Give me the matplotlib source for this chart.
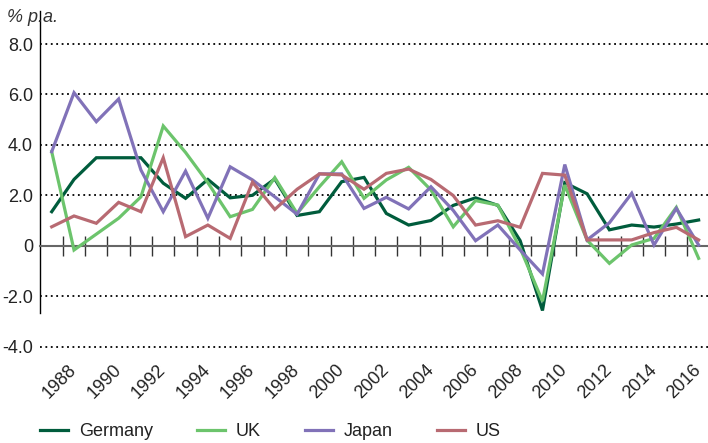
import matplotlib
matplotlib.use("Agg")
import matplotlib.pyplot as plt
import numpy as np

plt.rcParams['font.family'] = ['Liberation Sans', 'DejaVu Sans']

years = list(range(1987, 2017))
germany = [1.35, 2.63, 3.49, 3.49, 3.49, 2.48, 1.88, 2.63, 1.9, 2.0, 2.65, 1.2, 1.35, 2.54, 2.71,
           1.28, 0.82, 1.0, 1.6, 1.9, 1.6, 0.2, -2.57, 2.5, 2.06, 0.63, 0.82, 0.74, 0.86, 1.02]
uk = [3.73, -0.17, 0.46, 1.09, 1.94, 4.75, 3.7, 2.5, 1.15, 1.44, 2.7, 1.28, 2.34, 3.33, 1.88,
      2.61, 3.11, 2.21, 0.75, 1.79, 1.61, -0.1, -2.2, 2.41, 0.22, -0.7, 0.03, 0.29, 1.52, -0.5]
japan = [3.73, 6.07, 4.92, 5.82, 3.0, 1.35, 2.96, 1.09, 3.13, 2.61, 1.94, 1.25, 2.85, 2.85, 1.48,
         1.92, 1.46, 2.34, 1.4, 0.2, 0.82, -0.17, -1.12, 3.22, 0.23, 0.91, 2.08, 0.03, 1.48, 0.03]
us = [0.75, 1.18, 0.89, 1.72, 1.35, 3.49, 0.36, 0.82, 0.29, 2.52, 1.44, 2.24, 2.85, 2.81, 2.24,
      2.87, 3.04, 2.63, 1.99, 0.82, 0.99, 0.73, 2.87, 2.8, 0.23, 0.23, 0.23, 0.52, 0.73, 0.23]

series = [("Germany", germany, "#005c3c"),
          ("UK", uk, "#6cc46c"),
          ("Japan", japan, "#8172b8"),
          ("US", us, "#b86a72")]

yticks = [-4, -2, 0, 2, 4, 6, 8]
ytick_labels = ["-4.0", "-2.0", "0", "2.0", "4.0", "6.0", "8.0"]

W, H = 708, 443
fs = 13
fig = plt.figure(figsize=(W / 100, H / 100), dpi=100)
ax = fig.add_axes([40 / W, 1 - 347.8 / H, 668 / W, (347.8 - 11.3) / H])

x = np.arange(len(years))
for name, vals, col in series:
    ax.plot(x, vals, color=col, lw=2.3, label=name, solid_joinstyle='miter', zorder=3)

ax.set_xlim(-0.525, 29.42)
ax.set_ylim(-4.05, 9.3)

# dotted gridlines
for v in yticks:
    if v != 0:
        ax.axhline(v, color="black", lw=1.3, linestyle=(0, (1, 2)), zorder=1)

for s in ["top", "right"]:
    ax.spines[s].set_visible(False)
ax.spines["left"].set_bounds(-2.67, 9.3)
ax.spines["left"].set_linewidth(1.0)
ax.spines["bottom"].set_position(("data", 0))
ax.spines["bottom"].set_color("#666666")
ax.spines["bottom"].set_linewidth(1.5)

ax.set_yticks(yticks)
ax.set_yticklabels(ytick_labels)
ax.tick_params(axis="y", length=0, pad=5, labelsize=fs, labelcolor="#222222")

# tick marks between categories on the zero line
ax.set_xticks(x[:-1] + 0.5, minor=True)
ax.set_xticks([])
ax.tick_params(axis="x", which="minor", direction="inout", length=14, width=1.0,
               color="#333333")

# year labels at bottom
sec = ax.secondary_xaxis("bottom")
lab_idx = [i for i, y in enumerate(years) if y % 2 == 0]
sec.set_xticks(lab_idx)
sec.set_xticklabels([str(years[i]) for i in lab_idx], rotation=45, ha="right",
                    va="center", rotation_mode="anchor")
sec.tick_params(length=0, pad=14, labelsize=fs, labelcolor="#222222")
sec.spines["bottom"].set_visible(False)

fig.text(7 / W, 1 - 18 / H, "% p.a.", style="italic", fontsize=fs, color="#333333",
         va="center", ha="left")

fig.legend(loc="center left", bbox_to_anchor=(40 / W, 1 - 432 / H), ncol=4, frameon=False,
           fontsize=fs, handlelength=1.55, handletextpad=0.6, columnspacing=2.45,
           borderpad=0, borderaxespad=0, labelcolor="#222222")

fig.savefig("out.png", dpi=100)
